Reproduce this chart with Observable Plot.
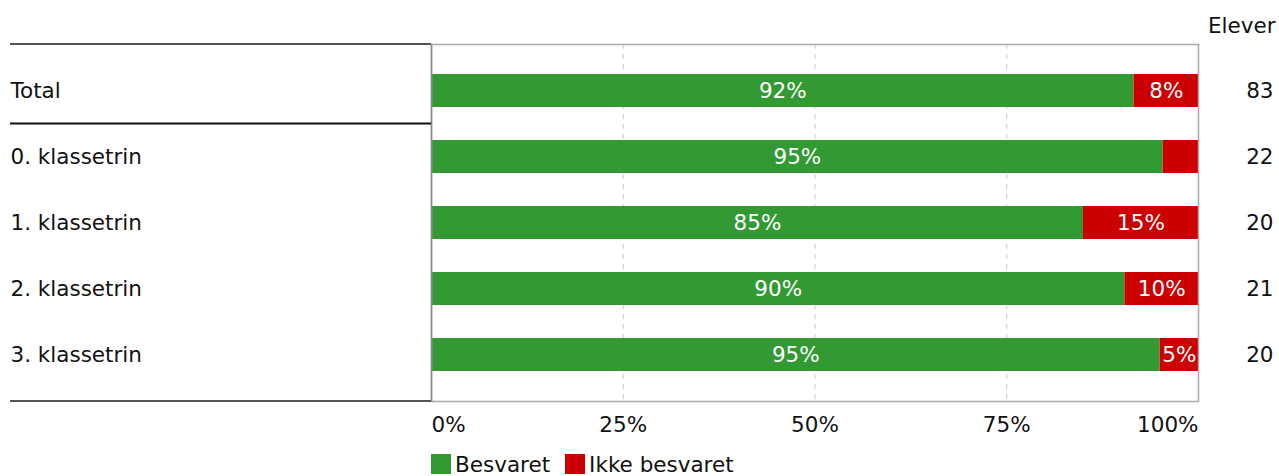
<!DOCTYPE html>
<html>
<head>
<meta charset="utf-8">
<script src="https://cdn.jsdelivr.net/npm/d3@7"></script>
<script src="https://cdn.jsdelivr.net/npm/@observablehq/plot@0.6"></script>
<style>
  body { margin: 0; background: #fff; font-family: "DejaVu Sans", Verdana, sans-serif; }
  #legend { display: flex; align-items: center; margin-left: 431px; margin-top: 8px; font-size: 21.5px; color: #111; height: 22px; }
  .sw { width: 20px; height: 20px; display: inline-block; margin-right: 4px; }
  .item { display: flex; align-items: center; margin-right: 15px; }
</style>
</head>
<body>
<div id="chart"></div>
<div id="legend"></div>
<script>
const groups = ["Total", "0. klassetrin", "1. klassetrin", "2. klassetrin", "3. klassetrin"];
const besvaret = [91.6, 95.4, 85, 90.4, 95];
const ikkeBesvaret = [8.4, 4.6, 15, 9.6, 5];
const elever = [83, 22, 20, 21, 20];
const categories = ["Besvaret", "Ikke besvaret"];
const colors = ["#339933", "#cc0000"];
const xTicks = [0, 25, 50, 75, 100];

const data = [];
groups.forEach((g, i) => {
  data.push({group: g, category: categories[0], value: besvaret[i]});
  data.push({group: g, category: categories[1], value: ikkeBesvaret[i]});
});

const W = 1279, H = 445;
const chart = Plot.plot({
  width: W,
  height: H,
  marginLeft: 431,
  marginRight: 81,
  marginTop: 44,
  marginBottom: 44,
  style: {fontFamily: "DejaVu Sans, Verdana, sans-serif", fontSize: "21.5px", color: "#111", background: "#fff"},
  x: {domain: [0, 100], axis: null},
  y: {domain: groups, axis: null, paddingInner: 0.5, paddingOuter: 0.44},
  color: {domain: categories, range: colors},
  marks: [
    Plot.ruleX(xTicks.slice(1, -1), {stroke: "#c8c8c8", strokeDasharray: "5,5"}),
    Plot.barX(data, {y: "group", x: "value", fill: "category", z: "category", order: categories}),
    Plot.text(data, Plot.stackX({
      y: "group", x: "value", z: "category", order: categories,
      text: d => d.value >= 5 ? Math.round(d.value) + "%" : "",
      fill: "white"
    })),
    Plot.frame({stroke: "#aaa", strokeWidth: 1.5}),
    Plot.ruleX([0], {stroke: "#888", strokeWidth: 1.5}),
    Plot.text(groups, {y: d => d, text: d => d, frameAnchor: "left", textAnchor: "start", dx: -421, fill: "#111"}),
    Plot.text(groups, {y: d => d, text: (d, i) => String(elever[i]), frameAnchor: "right", textAnchor: "end", dx: 75, fill: "#111"}),
    Plot.text(["Elever"], {text: d => d, frameAnchor: "top-right", lineAnchor: "middle", textAnchor: "end", dx: 77, dy: -18, fill: "#111"}),
    Plot.text(xTicks.filter(t => t === 0), {x: d => d, text: d => d + "%", frameAnchor: "bottom", lineAnchor: "middle", textAnchor: "start", dy: 24, fill: "#111"}),
    Plot.text(xTicks.filter(t => t > 0 && t < 100), {x: d => d, text: d => d + "%", frameAnchor: "bottom", lineAnchor: "middle", textAnchor: "middle", dy: 24, fill: "#111"}),
    Plot.text(xTicks.filter(t => t === 100), {x: d => d, text: d => d + "%", frameAnchor: "bottom", lineAnchor: "middle", textAnchor: "end", dy: 24, fill: "#111"})
  ]
});
document.getElementById("chart").appendChild(chart);

// separator lines in the label column, positioned from the plot's own y scale
const ys = chart.scale("y");
const svg = d3.select(chart);
const xl = 10, xr = 431;
const yTop = 44, yBottom = H - 44;
const ySep = (ys.apply(groups[0]) + ys.bandwidth + ys.apply(groups[1])) / 2;
[[yTop, "#555"], [ySep, "#111"], [yBottom, "#555"]].forEach(([y, c]) => {
  svg.append("line").attr("x1", xl).attr("x2", xr).attr("y1", y).attr("y2", y)
    .attr("stroke", c).attr("stroke-width", 1.8);
});

const legend = d3.select("#legend");
categories.forEach((c, i) => {
  const it = legend.append("div").attr("class", "item");
  it.append("span").attr("class", "sw").style("background", colors[i]);
  it.append("span").text(c);
});
</script>
</body>
</html>
